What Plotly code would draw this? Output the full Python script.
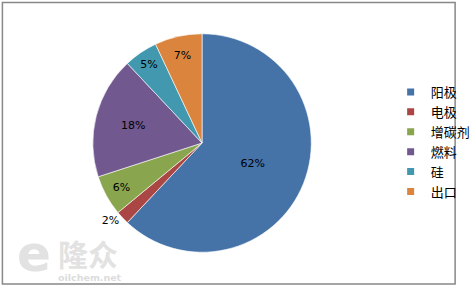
import plotly.graph_objects as go

labels = ["阳极", "电极", "增碳剂", "燃料", "硅", "出口"]
values = [62, 2, 6, 18, 5, 7]
colors = ["#4572A7", "#AA4643", "#89A54E", "#71588F", "#4198AF", "#DB843D"]
text_pos = ["inside", "outside", "inside", "inside", "inside", "inside"]

W, H = 476, 287
dcx, dcy, half = 210, 143, 113.5

fig = go.Figure()
fig.add_trace(go.Pie(
    labels=labels, values=values, sort=False, direction="clockwise", rotation=0,
    marker=dict(colors=colors, line=dict(color="white", width=0.6)),
    texttemplate="%{percent:.0%}", textposition=text_pos,
    insidetextorientation="horizontal",
    textfont=dict(family="DejaVu Sans", size=11, color="black"),
    showlegend=False, hoverinfo="label+percent",
    domain=dict(x=[(dcx - half) / W, (dcx + half) / W],
                y=[(H - dcy - half) / H, (H - dcy + half) / H]),
))

for lab, col in zip(labels, colors):
    fig.add_trace(go.Scatter(
        x=[None], y=[None], mode="markers", name=lab,
        marker=dict(symbol="square", size=7, color=col),
    ))

wm = dict(xref="paper", yref="paper", showarrow=False, xanchor="center", yanchor="middle")

fig.update_layout(
    width=W, height=H, margin=dict(l=0, r=0, t=0, b=0),
    paper_bgcolor="white", plot_bgcolor="white",
    xaxis=dict(visible=False), yaxis=dict(visible=False),
    legend=dict(
        x=406 / W, y=(H - 77) / H, xanchor="left", yanchor="top",
        font=dict(family="Noto Sans CJK SC", size=13, color="black"),
        itemwidth=30, tracegroupgap=0, bgcolor="rgba(0,0,0,0)",
    ),
    shapes=[dict(type="rect", xref="paper", yref="paper",
                 x0=2.5 / W, x1=473 / W, y0=3 / H, y1=(H - 2.5) / H,
                 line=dict(color="#888888", width=1.5))],
    annotations=[
        dict(text="<b>e</b>", x=35 / W, y=(H - 254) / H,
             font=dict(family="DejaVu Sans", size=50, color="#e2e2e2"), **wm),
        dict(text="<b>隆众</b>", x=91.5 / W, y=(H - 253) / H,
             font=dict(family="Noto Sans CJK SC", size=30, color="#e2e2e2"), **wm),
        dict(text="<b>oilchem.net</b>", x=94 / W, y=(H - 277.5) / H,
             font=dict(family="DejaVu Sans", size=9.5, color="#dcdcdc"), **wm),
    ],
)

fig.write_html("out.html")
